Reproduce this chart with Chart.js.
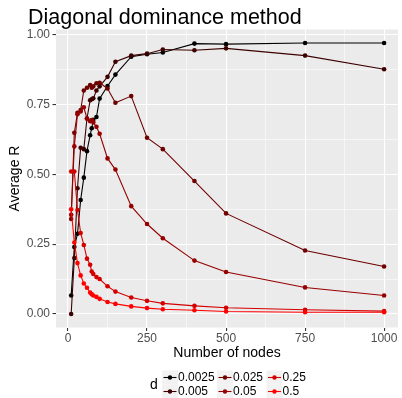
<!DOCTYPE html>
<html><head><meta charset="utf-8">
<script src="https://cdn.jsdelivr.net/npm/chart.js@4.4.1/dist/chart.umd.min.js"></script>
<style>html,body{margin:0;padding:0;background:#fff;}#wrap{width:402px;height:398px;position:relative;}</style>
</head><body><div id="wrap"><canvas id="c" width="402" height="398"></canvas></div>
<script>
// ---- data ----
const nodes = [10,20,30,40,50,60,70,75,80,90,100,125,150,200,250,300,400,500,750,1000];
const d0025 = [0.066,0.24,0.287,0.408,0.488,0.583,0.64,0.665,0.695,0.705,0.771,0.816,0.857,0.921,0.93,0.936,0.968,0.966,0.970,0.970];
const d005  = [0.0,0.20,0.45,0.595,0.59,0.70,0.765,0.769,0.772,0.80,0.815,0.849,0.903,0.925,0.932,0.947,0.944,0.951,0.925,0.876];
const d025  = [0.34,0.649,0.72,0.73,0.80,0.81,0.82,0.81,0.815,0.826,0.828,0.807,0.756,0.78,0.631,0.59,0.476,0.36,0.227,0.17];
const d05   = [0.355,0.60,0.715,0.725,0.74,0.70,0.69,0.694,0.686,0.67,0.645,0.557,0.517,0.386,0.322,0.271,0.191,0.15,0.095,0.066];
const d25   = [0.51,0.51,0.372,0.29,0.247,0.198,0.176,0.152,0.143,0.132,0.125,0.099,0.08,0.059,0.047,0.038,0.029,0.022,0.015,0.010];
const d5    = [0.375,0.256,0.182,0.138,0.109,0.094,0.077,0.071,0.066,0.061,0.054,0.043,0.036,0.027,0.021,0.017,0.013,0.009,0.006,0.006];
const seriesLabels = ['0.0025','0.005','0.025','0.05','0.25','0.5'];
const seriesColors = ['#000000','#3c0000','#6e0000','#960000','#d40000','#ff0000'];
const xMajor = [0,250,500,750,1000];
const xMinor = [125,375,625,875];
const yMajor = [0,0.25,0.5,0.75,1];
const yMinor = [0.125,0.375,0.625,0.875];
const titleText = 'Diagonal dominance method';
const xTitle = 'Number of nodes';
const yTitle = 'Average R';
const legendTitle = 'd';

const allSeries = [d0025,d005,d025,d05,d25,d5];
const FONT = "'Liberation Sans', Arial, Helvetica, sans-serif";

function buildTicks(major, minor){
  const t = major.map(v=>({value:v, isMajor:true})).concat(minor.map(v=>({value:v, isMajor:false})));
  t.sort((a,b)=>a.value-b.value);
  return t;
}

const bgPlugin = {
  id:'bg',
  beforeDraw(chart){
    const {ctx, chartArea:a} = chart;
    ctx.save();
    ctx.fillStyle = '#ebebeb';
    ctx.fillRect(a.left, a.top, a.right-a.left, a.bottom-a.top);
    ctx.restore();
  },
  afterDraw(chart){
    const ctx = chart.ctx;
    ctx.save();
    // title
    ctx.fillStyle = '#000';
    ctx.font = '21.5px ' + FONT;
    ctx.textBaseline = 'alphabetic';
    ctx.textAlign = 'left';
    ctx.fillText(titleText, 28, 23.5);
    // legend
    ctx.font = '14px ' + FONT;
    ctx.textBaseline = 'middle';
    ctx.fillText(legendTitle, 150, 385);
    const colX = [170, 225, 274.5];
    const rowY = [377.5, 391.5];
    ctx.font = '12px ' + FONT;
    seriesLabels.forEach((lab,i)=>{
      const cx = colX[Math.floor(i/2)], cy = rowY[i%2];
      ctx.fillStyle = '#f2f2f2';
      ctx.fillRect(cx-8, cy-7, 16, 14);
      ctx.strokeStyle = seriesColors[i];
      ctx.lineWidth = 1.1;
      ctx.beginPath(); ctx.moveTo(cx-6.5, cy); ctx.lineTo(cx+6.5, cy); ctx.stroke();
      ctx.fillStyle = seriesColors[i];
      ctx.beginPath(); ctx.arc(cx, cy, 2.2, 0, Math.PI*2); ctx.fill();
      ctx.fillStyle = '#000';
      ctx.fillText(lab, cx+8, cy+0.5);
    });
    ctx.restore();
  }
};

const gridCommon = {
  color: '#ffffff',
  lineWidth: c => (c.tick && c.tick.isMajor) ? 1.1 : 0.55,
  tickColor: c => (c.tick && c.tick.isMajor) ? '#333333' : 'rgba(0,0,0,0)',
  tickWidth: 1.1,
  tickLength: 3.5,
  drawTicks: true
};

new Chart(document.getElementById('c'), {
  type: 'line',
  data: {
    datasets: allSeries.map((s,i)=>({
      label: seriesLabels[i],
      data: nodes.map((n,j)=>({x:n, y:s[j]})),
      borderColor: seriesColors[i],
      backgroundColor: seriesColors[i],
      pointBackgroundColor: seriesColors[i],
      pointBorderWidth: 0,
      pointRadius: 2.3,
      borderWidth: 1.1,
      tension: 0,
      fill: false,
      order: 6 - i
    }))
  },
  options: {
    responsive: false,
    devicePixelRatio: 1,
    animation: false,
    events: [],
    layout: { padding: { top: 29.5, right: 0, bottom: 33, left: 0 } },
    plugins: { legend: { display: false }, title: { display: false }, tooltip: { enabled: false } },
    scales: {
      x: {
        type: 'linear', min: -38, max: 1044,
        afterBuildTicks: s => { s.ticks = buildTicks(xMajor, xMinor); },
        afterFit: s => { s.height = 37.5; s.paddingLeft = 0; s.paddingRight = 0; },
        ticks: { autoSkip: false, maxRotation: 0, padding: 0.5, color: '#4d4d4d', font: { family: FONT, size: 12 },
          callback: (v, i, t) => (t[i] && t[i].isMajor) ? String(v) : '' },
        grid: gridCommon,
        border: { display: false },
        title: { display: true, text: xTitle, color: '#000', font: { family: FONT, size: 14 }, padding: { top: 0, bottom: 3 } }
      },
      y: {
        type: 'linear', min: -0.0485, max: 1.0185,
        afterBuildTicks: s => { s.ticks = buildTicks(yMajor, yMinor); },
        afterFit: s => { s.width = 56; s.paddingTop = 0; s.paddingBottom = 0; },
        ticks: { autoSkip: false, padding: 2.5, color: '#4d4d4d', font: { family: FONT, size: 12 },
          callback: (v, i, t) => (t[i] && t[i].isMajor) ? v.toFixed(2) : '' },
        grid: gridCommon,
        border: { display: false },
        title: { display: true, text: yTitle, color: '#000', font: { family: FONT, size: 14 }, padding: { top: 7, bottom: 0 } }
      }
    }
  },
  plugins: [bgPlugin]
});
</script>
</body></html>
